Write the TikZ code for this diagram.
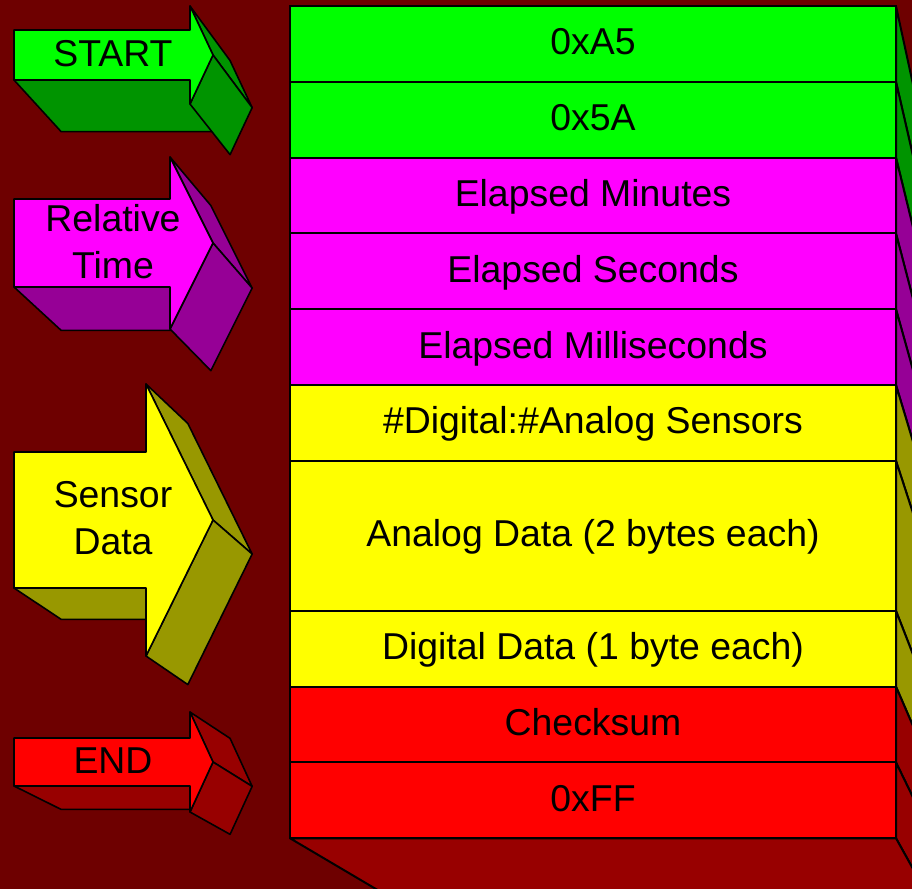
\documentclass[tikz,border=0pt]{standalone}
\usepackage{fontspec}
\setmainfont{Liberation Sans}
\usetikzlibrary{calc,positioning}

\definecolor{bgred}{RGB}{110,0,0}
\definecolor{pgreen}{RGB}{0,255,0}
\definecolor{pmagenta}{RGB}{255,0,255}
\definecolor{pyellow}{RGB}{255,255,0}
\definecolor{pred}{RGB}{255,0,0}
\definecolor{sidegreen}{RGB}{0,148,0}
\definecolor{sidemagenta}{RGB}{150,0,150}
\definecolor{sideyellow}{RGB}{152,152,0}
\definecolor{sidered}{RGB}{152,0,0}

\tikzset{
  field/.style={draw, line width=1pt, minimum width=303pt, minimum height=37.9pt,
    inner sep=0pt, outer sep=0pt, text height=11pt, text depth=0pt,
    font=\fontsize{18.7}{23}\selectfont},
  tag/.style={align=center, inner sep=0pt, font=\fontsize{18.7}{23.5}\selectfont},
  face/.style={draw=black, line width=.8pt, line join=round},
}

% depth of the arrows toward the vanishing point
\newcommand{\adepth}{0.04}
% 3d arrow: name, centre y, shaft half height, head half height, head x, front, side, text
\newcommand{\flowarrow}[8]{%
  \coordinate (#1-a) at (14,{#2-#3});
  \coordinate (#1-b) at (#5,{#2-#3});
  \coordinate (#1-c) at (#5,{#2-#4});
  \coordinate (#1-t) at (213,#2);
  \coordinate (#1-d) at (#5,{#2+#4});
  \coordinate (#1-e) at (#5,{#2+#3});
  \coordinate (#1-f) at (14,{#2+#3});
  \filldraw[face, fill=#7] (#1-f) -- (#1-e) -- ($(#1-e)!\adepth!(vp)$) -- ($(#1-f)!\adepth!(vp)$) -- cycle;
  \filldraw[face, fill=#7] (#1-c) -- (#1-t) -- ($(#1-t)!\adepth!(vp)$) -- ($(#1-c)!\adepth!(vp)$) -- cycle;
  \filldraw[face, fill=#7] (#1-t) -- (#1-d) -- ($(#1-d)!\adepth!(vp)$) -- ($(#1-t)!\adepth!(vp)$) -- cycle;
  \filldraw[face, fill=#6] (#1-a) -- (#1-b) -- (#1-c) -- (#1-t) -- (#1-d) -- (#1-e) -- (#1-f) -- cycle;
  \node[tag] (#1) at (113,{#2-1.5}) {#8};
}

\begin{document}
\begin{tikzpicture}[x=0.5pt, y=-0.5pt]
    \useasboundingbox (0,0) rectangle (912,889);
    \clip (0,0) rectangle (912,889);
    \fill[bgred] (0,0) rectangle (912,889);
    \coordinate (vp) at (1192,1371);

    % the packet, one field per row
    \node[field, fill=pgreen] (r1) at (593,43.95) {0xA5};
    \node[field, fill=pgreen, below=0pt of r1] (r2) {0x5A};
    \node[field, fill=pmagenta, below=0pt of r2] (r3) {Elapsed Minutes};
    \node[field, fill=pmagenta, below=0pt of r3] (r4) {Elapsed Seconds};
    \node[field, fill=pmagenta, below=0pt of r4] (r5) {Elapsed Milliseconds};
    \node[field, fill=pyellow, below=0pt of r5] (r6) {\#Digital:\#Analog Sensors};
    \node[field, fill=pyellow, below=0pt of r6, minimum height=75pt] (r7) {Analog Data (2 bytes each)};
    \node[field, fill=pyellow, below=0pt of r7] (r8) {Digital Data (1 byte each)};
    \node[field, fill=pred, below=0pt of r8] (r9) {Checksum};
    \node[field, fill=pred, below=0pt of r9] (r10) {0xFF};

    % extruded sides and bottom
\foreach \r/\s in {r1/sidegreen, r2/sidegreen, r3/sidemagenta, r4/sidemagenta, r5/sidemagenta,
                   r6/sideyellow, r7/sideyellow, r8/sideyellow, r9/sidered, r10/sidered}
    \filldraw[face, line width=1pt, fill=\s] (\r.north east) -- ($(\r.north east)!.25!(vp)$)
        -- ($(\r.south east)!.25!(vp)$) -- (\r.south east) -- cycle;
    \filldraw[face, line width=1pt, fill=sidered] (r10.south west) -- (r10.south east)
        -- ($(r10.south east)!.25!(vp)$) -- ($(r10.south west)!.25!(vp)$) -- cycle;

    % arrows on the left
    \flowarrow{start}{55}{25}{49}{190}{pgreen}{sidegreen}{START}
    \flowarrow{time}{243}{44}{86}{170}{pmagenta}{sidemagenta}{Relative\\Time}
    \flowarrow{sensor}{520}{68}{136}{146}{pyellow}{sideyellow}{Sensor\\Data}
    \flowarrow{end}{762}{24}{50}{190}{pred}{sidered}{END}
\end{tikzpicture}
\end{document}
